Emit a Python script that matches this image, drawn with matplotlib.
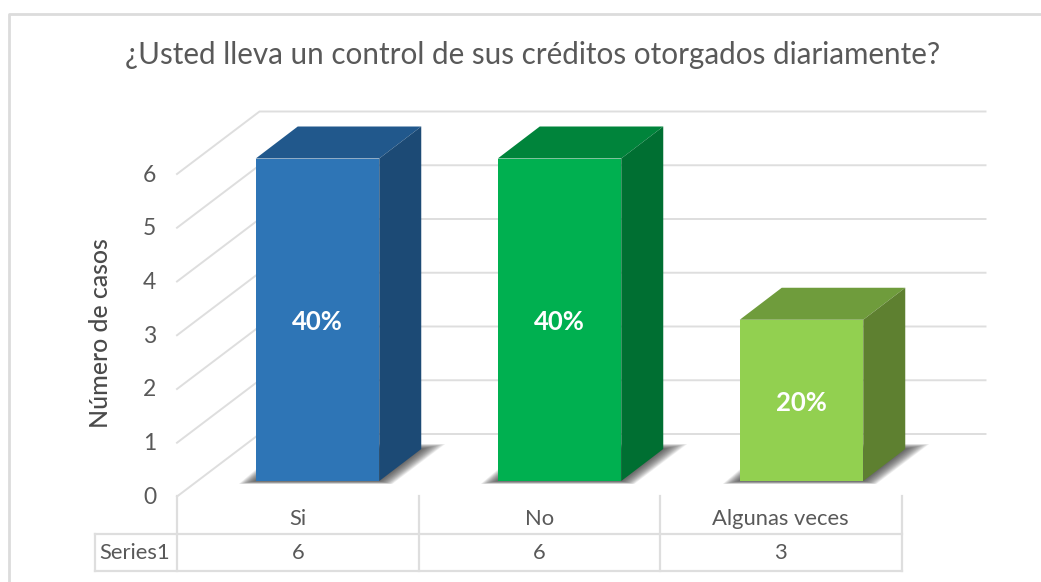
import numpy as np
import matplotlib
matplotlib.use('Agg')
import matplotlib.pyplot as plt
from matplotlib.patches import Polygon

categories = ['Si', 'No', 'Algunas veces']
values = [6, 6, 3]
percents = ['40%', '40%', '20%']
series_name = 'Series1'
y_ticks = [0, 1, 2, 3, 4, 5, 6]
title = '¿Usted lleva un control de sus créditos otorgados diariamente?'
y_label = 'Número de casos'

front_colors = ['#2E75B6', '#00B050', '#92D050']
top_colors = ['#21588C', '#00843B', '#6F9C3C']
side_colors = ['#1C4A75', '#006F32', '#5E8030']
grid_color = '#DEDEDE'
text_color = '#595959'

plt.rcParams['font.family'] = ['Lato', 'DejaVu Sans']

# one axes over the whole figure, scaled so one category = 242 px, one case = 53.75 px
ux = 242.0
uy = 53.75
x0_px = 317.5
y0_px = 481.0
W, H = 1041, 582


def X(px):
    return (px - x0_px) / ux


def Y(px):
    return (y0_px - px) / uy


fig = plt.figure(figsize=(W / 100, H / 100), dpi=100)
ax = fig.add_axes([0, 0, 1, 1])
ax.set_xlim(X(0), X(W))
ax.set_ylim(Y(H), Y(0))
ax.axis('off')

bar_w = 123.5 / ux
depth_x = 42.0 / ux
depth_y = 32.0 / uy

# chart frame
ax.plot([X(9.5), X(9.5), X(W)], [Y(H), Y(13.5), Y(13.5)], color='#DCDCDC', lw=2.0, zorder=1)

# gridlines on floor/side wall and back wall
front_x = X(177)
back_x = X(259.5)
right_x = X(985.5)
front_off = Y(496.5)
back_off = Y(434)
for v in y_ticks:
    ax.plot([front_x, back_x, right_x], [v + front_off, v + back_off, v + back_off],
            color=grid_color, lw=1.4, zorder=1, solid_joinstyle='miter')
    ax.text(X(149.5), v + Y(497.5), str(v), ha='center', va='center', fontsize=16.5, color=text_color)

# bars
for i, v in enumerate(values):
    l = i - bar_w / 2
    r = i + bar_w / 2
    # soft shadow on the floor
    inner = np.array([[l, 0], [r, 0], [r + depth_x, depth_y], [l + depth_x, depth_y]])
    outer = np.array([[l - 17 / ux, -3 / uy], [r + 13 / ux, -3 / uy],
                      [r + depth_x + 24 / ux, depth_y + 5 / uy], [l + depth_x - 12 / ux, depth_y + 5 / uy]])
    for t in np.linspace(1, 0, 16):
        ax.add_patch(Polygon(inner + (outer - inner) * t, closed=True, fc='#303030', ec='none',
                             alpha=0.075, zorder=2))
    ax.add_patch(Polygon([[l, v], [r, v], [r + depth_x, v + depth_y], [l + depth_x, v + depth_y]],
                         closed=True, fc=top_colors[i], ec='none', zorder=3))
    ax.add_patch(Polygon([[r, 0], [r + depth_x, depth_y], [r + depth_x, v + depth_y], [r, v]],
                         closed=True, fc=side_colors[i], ec='none', zorder=3))
    ax.bar(i, v, width=bar_w, color=front_colors[i], zorder=4)
    ax.text(i, v / 2 - 2.5 / uy, percents[i], ha='center', va='center', fontsize=18.5, color='white',
            fontweight='bold', zorder=5)

# data table under the chart
table_edges = [X(177), X(419), X(660), X(901.5)]
for e in table_edges:
    ax.plot([e, e], [Y(496), Y(571)], color=grid_color, lw=1.6, zorder=1)
ax.plot([X(95), table_edges[-1]], [Y(533.5), Y(533.5)], color=grid_color, lw=1.6, zorder=1)
ax.plot([X(95), table_edges[-1]], [Y(571), Y(571)], color=grid_color, lw=1.6, zorder=1)
ax.plot([X(95), X(95)], [Y(533.5), Y(571)], color=grid_color, lw=1.6, zorder=1)
for i, (c, v) in enumerate(zip(categories, values)):
    xc = (table_edges[i] + table_edges[i + 1]) / 2
    ax.text(xc, Y(519), c, ha='center', va='center', fontsize=15.8, color=text_color)
    ax.text(xc, Y(553), str(v), ha='center', va='center', fontsize=15.8, color=text_color)
ax.text(X(135), Y(553), series_name, ha='center', va='center', fontsize=15.8, color=text_color)

ax.text(X(532.5), Y(55), title, ha='center', va='center', fontsize=21.3, color=text_color)
ax.text(X(100.5), Y(333), y_label, ha='center', va='center', rotation=90, fontsize=17.9,
        color='#4A4A4A', fontweight='medium')

fig.savefig('out.png', dpi=100, facecolor='white')
